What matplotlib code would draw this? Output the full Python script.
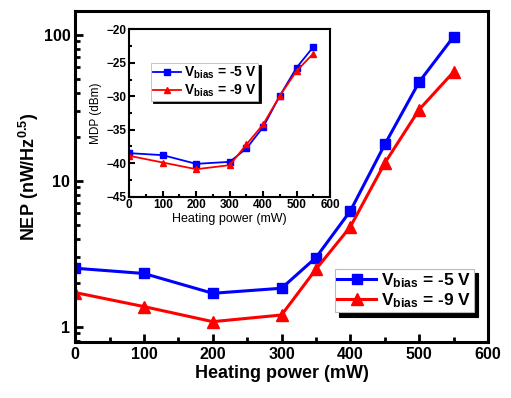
import matplotlib
matplotlib.use("Agg")
import matplotlib.pyplot as plt
from matplotlib.ticker import MultipleLocator, FixedLocator, LogLocator, NullFormatter

plt.rcParams['font.family'] = ['Liberation Sans', 'DejaVu Sans']
plt.rcParams['mathtext.fontset'] = 'custom'
plt.rcParams['mathtext.rm'] = 'Liberation Sans'
plt.rcParams['mathtext.bf'] = 'Liberation Sans:bold'
plt.rcParams['mathtext.default'] = 'bf'

power = [0, 100, 200, 300, 350, 400, 450, 500, 550]
nep_5v = [2.51, 2.31, 1.69, 1.83, 2.97, 6.2, 17.7, 47.5, 97]
nep_9v = [1.71, 1.37, 1.08, 1.20, 2.47, 4.83, 13.2, 30.7, 55.6]
mdp_5v = [-38.5, -38.8, -40.1, -39.8, -37.8, -34.6, -29.9, -25.7, -22.6]
mdp_9v = [-38.9, -39.9, -40.9, -40.3, -37.2, -34.2, -29.9, -26.2, -23.6]
labels = ['V$_{bias}$ = -5 V', 'V$_{bias}$ = -9 V']
xticks = [0, 100, 200, 300, 400, 500, 600]

blue = '#0000ff'
red = '#ff0000'

fig = plt.figure(figsize=(5.11, 3.98), dpi=100)
ax = fig.add_axes([0.147, 0.140, 0.808, 0.833])

ax.plot(power, nep_5v, color=blue, lw=2.2, marker='s', ms=7.5, label=labels[0])
ax.plot(power, nep_9v, color=red, lw=2.2, marker='^', ms=8, label=labels[1])
ax.set_yscale('log')
ax.set_xlim(0, 600)
ax.set_ylim(0.78, 146)
ax.xaxis.set_major_locator(FixedLocator(xticks))
ax.xaxis.set_minor_locator(MultipleLocator(50))
ax.yaxis.set_major_locator(FixedLocator([1, 10, 100]))
ax.yaxis.set_major_formatter(matplotlib.ticker.FuncFormatter(lambda v, p: '%d' % v))
ax.yaxis.set_minor_locator(LogLocator(base=10, subs=range(2, 10)))
ax.yaxis.set_minor_formatter(NullFormatter())
for s in ax.spines.values():
    s.set_linewidth(2.2)
ax.tick_params(which='major', direction='in', length=6, width=2, labelsize=11.5)
ax.tick_params(which='minor', direction='in', length=3.5, width=2)
for t in ax.get_xticklabels() + ax.get_yticklabels():
    t.set_fontweight('bold')
ax.set_xlabel('Heating power (mW)', fontsize=13, fontweight='bold', labelpad=2)
ax.set_ylabel('NEP (nW/Hz$^{0.5}$)', fontsize=13, fontweight='bold', labelpad=2)

leg = ax.legend(loc='lower right', bbox_to_anchor=(0.965, 0.09),
                prop={'weight': 'bold', 'size': 12.5},
                frameon=True, fancybox=False, edgecolor='#bbbbbb', framealpha=1,
                shadow={'color': 'black', 'alpha': 1, 'ox': 3, 'oy': -3},
                handlelength=2.2, handletextpad=0.3, borderpad=0.15, labelspacing=0.05,
                borderaxespad=0)
leg.get_frame().set_linewidth(0.8)

# inset
ins = fig.add_axes([0.253, 0.506, 0.393, 0.420])
ins.plot(power, mdp_5v, color=blue, lw=1.3, marker='s', ms=4.5, label=labels[0])
ins.plot(power, mdp_9v, color=red, lw=1.3, marker='^', ms=5, label=labels[1])
ins.set_xlim(0, 600)
ins.set_ylim(-45, -20)
ins.xaxis.set_major_locator(MultipleLocator(100))
ins.xaxis.set_minor_locator(MultipleLocator(50))
ins.yaxis.set_major_locator(MultipleLocator(5))
ins.yaxis.set_minor_locator(MultipleLocator(2.5))
for s in ins.spines.values():
    s.set_linewidth(1.5)
ins.tick_params(which='major', direction='in', length=4, width=1.5, labelsize=8.5, pad=2)
ins.tick_params(which='minor', direction='in', length=2.5, width=1.5)
for t in ins.get_xticklabels() + ins.get_yticklabels():
    t.set_fontweight('bold')
ins.set_xlabel('Heating power (mW)', fontsize=9, labelpad=1)
ins.set_ylabel('MDP (dBm)', fontsize=8.5, labelpad=3)
leg2 = ins.legend(loc='upper left', bbox_to_anchor=(0.11, 0.80),
                  prop={'weight': 'bold', 'size': 10},
                  frameon=True, fancybox=False, edgecolor='#bbbbbb', framealpha=1,
                  shadow={'color': 'black', 'alpha': 1, 'ox': 1.5, 'oy': -1.5},
                  handlelength=2.0, handletextpad=0.2, borderpad=0.15, labelspacing=0.1,
                  borderaxespad=0)
leg2.get_frame().set_linewidth(0.6)

fig.savefig('out.png', dpi=100)
